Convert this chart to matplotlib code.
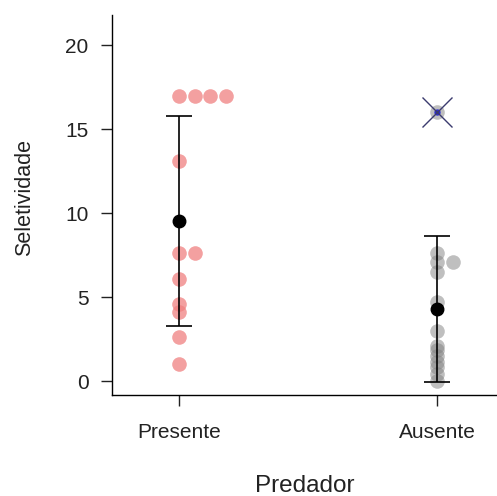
import matplotlib
matplotlib.use("Agg")
import matplotlib.pyplot as plt
import numpy as np

plt.rcParams['font.family'] = ['Liberation Sans', 'DejaVu Sans']

groups = ["Presente", "Ausente"]
presente = [17, 17, 17, 17, 13.1, 7.6, 7.6, 6.1, 4.6, 4.1, 2.6, 1.0]
ausente = [16, 7.6, 7.1, 7.1, 6.5, 4.7, 3.0, 2.1, 1.85, 1.5, 1.15, 0.85, 0.45, 0]
outlier = 16
yticks = [0, 5, 10, 15, 20]


def stack_offsets(values, step):
    # repeated values are laid side by side to the right
    seen = {}
    offs = []
    for v in values:
        k = seen.get(v, 0)
        offs.append(k * step)
        seen[v] = k + 1
    return np.array(offs)


fig = plt.figure(figsize=(4.97, 4.96), dpi=100)
ax = fig.add_axes([112 / 497, 1 - 395 / 496, 1 - 112 / 497, (395 - 15) / 496])

step = 0.061
for i, (vals, col, a) in enumerate([(presente, '#f08080', 0.75), (ausente, '#808080', 0.5)]):
    xpos = i + 1
    vals = np.array(vals)
    ax.plot(xpos + stack_offsets(vals, step), vals, 'o', ms=10.5, color=col,
            alpha=a, mec='none', zorder=2)
    m, sd = vals.mean(), vals.std(ddof=1)
    ax.errorbar(xpos, m, yerr=sd, fmt='o', ms=9, color='black', ecolor='black',
                elinewidth=1.2, capsize=9.5, capthick=1.2, zorder=3)

# flagged value in Ausente
ax.plot(2, outlier, 'o', ms=3.5, color='#2a2ad0', zorder=4)
ax.plot(2, outlier, 'x', ms=21, mew=1.0, color='#3b3b6e', zorder=5)

ax.set_xlim(1 - 67 / 258, 2 + 60 / 258)
ax.set_ylim(-0.83, 21.8)
ax.set_xticks([1, 2])
ax.set_xticklabels(groups)
ax.set_yticks(yticks)
ax.tick_params(axis='both', labelsize=15, length=8, width=1, color='#222222',
               labelcolor='#222222', pad=9)
ax.tick_params(axis='x', pad=12)
for s in ['top', 'right']:
    ax.spines[s].set_visible(False)
for s in ['left', 'bottom']:
    ax.spines[s].set_linewidth(1)

ax.set_ylabel("Seletividade", fontsize=15.5, color='#222222', va='center')
ax.yaxis.set_label_coords(-0.228, 0.52)
ax.set_xlabel("Predador", fontsize=17.5, color='#222222', va='center')
ax.xaxis.set_label_coords(0.501, -0.24)

fig.savefig("out.png", dpi=100)
